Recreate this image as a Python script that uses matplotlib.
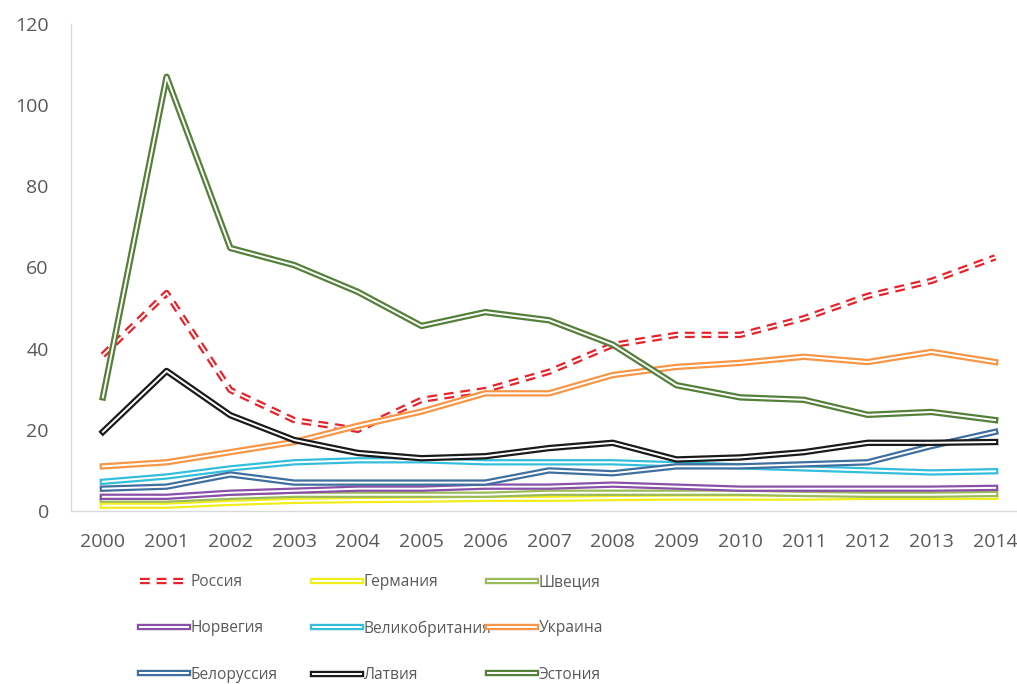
import numpy as np
import matplotlib
matplotlib.use("Agg")
import matplotlib.pyplot as plt
from matplotlib.legend_handler import HandlerTuple

plt.rcParams['font.family'] = ['Open Sans', 'DejaVu Sans']
plt.rcParams['lines.scale_dashes'] = False

#%% data

years = list(range(2000, 2015))

russia  = [38.4, 53.7, 29.8, 22.4, 20.0, 27.4, 29.8, 34.3, 40.9, 43.4, 43.4, 47.5, 53.0, 56.7, 62.5]
germany = [1.3, 1.3, 2.0, 2.5, 2.7, 2.8, 3.0, 3.0, 3.2, 3.3, 3.3, 3.3, 3.5, 3.5, 3.5]
sweden  = [2.8, 2.8, 3.5, 4.0, 4.0, 4.0, 4.0, 4.5, 4.5, 4.5, 4.5, 4.2, 4.0, 4.0, 4.2]
norway  = [3.5, 3.5, 4.5, 5.0, 5.5, 5.5, 6.0, 6.0, 6.5, 6.0, 5.5, 5.5, 5.5, 5.5, 5.7]
uk      = [7.2, 8.5, 10.5, 12.0, 12.5, 12.5, 12.0, 12.0, 12.0, 11.5, 11.0, 10.5, 10.0, 9.5, 9.8]
ukraine = [11.0, 12.0, 14.5, 17.0, 21.0, 24.5, 29.0, 29.0, 33.5, 35.5, 36.5, 38.0, 36.7, 39.2, 36.7]
belarus = [5.5, 6.0, 9.0, 7.0, 7.0, 7.0, 7.0, 10.0, 9.3, 11.0, 11.0, 11.5, 12.0, 16.0, 19.5]
latvia  = [19.5, 34.5, 23.6, 17.5, 14.3, 13.0, 13.5, 15.5, 16.8, 12.7, 13.2, 14.5, 16.8, 16.8, 17.0]
estonia = [28.0, 107.0, 64.8, 60.6, 54.0, 45.6, 49.0, 47.0, 41.0, 31.0, 28.0, 27.4, 23.7, 24.4, 22.4]

names  = ['Россия', 'Германия', 'Швеция', 'Норвегия', 'Великобритания',
          'Украина', 'Белоруссия', 'Латвия', 'Эстония']
series = [russia, germany, sweden, norway, uk, ukraine, belarus, latvia, estonia]
colors = ['#e8222a', '#f2ee1c', '#9bbb59', '#8a4fa8', '#33bfdc',
          '#f79646', '#3f6f9f', '#1a1a1a', '#55803a']

txt = '#595959'
lw_out = 4.6
lw_in = 1.4
dash = (0, (7, 5))

#%% figure

fig = plt.figure(figsize=(10.17, 6.84), dpi=100)
ax = fig.add_axes([71/1017, 1 - 511/684, 956/1017, 487/684])

handles = []
for i in range(len(series)):
    ls = dash if i == 0 else '-'
    l1, = ax.plot(years, series[i], color=colors[i], lw=lw_out, linestyle=ls, zorder=2 + i)
    l2, = ax.plot(years, series[i], color='white', lw=lw_in, linestyle=ls, zorder=2 + i)
    handles.append((l1, l2))

ax.set_xlim(1999.5, 2014.5)
ax.set_ylim(0, 120)
ax.set_xticks(years)
ax.set_yticks(range(0, 121, 20))

for s in ['top', 'right']:
    ax.spines[s].set_visible(False)
for s in ['left', 'bottom']:
    ax.spines[s].set_color('#d9d9d9')
    ax.spines[s].set_linewidth(1.0)
ax.tick_params(axis='both', length=0, colors=txt, labelsize=14)
ax.tick_params(axis='y', pad=16)
ax.tick_params(axis='x', pad=16)

#%% legend, three columns of equal width

col_x = [140/1017, 313/1017, 488/1017]
for c in range(3):
    idx = [c, c + 3, c + 6]
    fig.legend([handles[k] for k in idx], [names[k] for k in idx],
               handler_map={tuple: HandlerTuple(ndivide=1, pad=0)},
               loc='upper left', bbox_to_anchor=(col_x[c], 1 - 574/684),
               frameon=False, fontsize=11.2, labelcolor=txt,
               handlelength=3.1, handletextpad=0.15, labelspacing=1.95,
               borderpad=0, borderaxespad=0)

fig.savefig('out.png', dpi=100)
